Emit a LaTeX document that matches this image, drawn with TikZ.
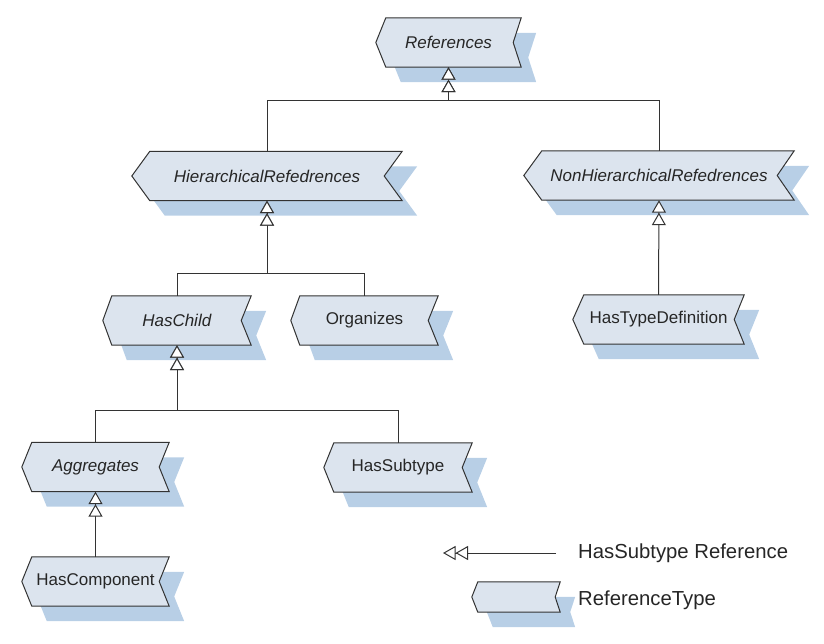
\documentclass[tikz,border=0pt]{standalone}
\usepackage{fontspec}
\setmainfont{Liberation Sans}
\usetikzlibrary{arrows.meta,backgrounds}
\definecolor{typefill}{RGB}{220,228,238}
\definecolor{typeshadow}{RGB}{184,207,230}
\definecolor{typeline}{RGB}{51,51,51}

\begin{document}
\begin{tikzpicture}[x=1pt,y=-1pt,
    reftype/.style={inner sep=0pt, minimum width=#1, minimum height=49pt,
      font=\fontsize{17}{19}\selectfont, text=black!85},
    reftype/.default=147pt,
    subtype/.style={draw=typeline, line width=1pt,
      -{Triangle[length=12.5pt,width=14pt,fill=white,sep=0pt] Triangle[length=12.5pt,width=14pt,fill=white]}},
    legendtext/.style={anchor=west, inner sep=0pt, font=\fontsize{20.3}{23}\selectfont, text=black!85}]
  \useasboundingbox (0,0) rectangle (824,643);

  % reference types
  \node [reftype=145pt] (refs) at (448.5,42.5) {\textit{References}};
  \node [reftype=270pt] (hier) at (267,176) {\textit{HierarchicalRefedrences}};
  \node [reftype=270pt] (nonhier) at (659,175.5) {\textit{NonHierarchicalRefedrences}};
  \node [reftype=148pt] (haschild) at (177,320.5) {\textit{HasChild}};
  \node [reftype] (organizes) at (364.5,320.5) {Organizes};
  \node [reftype=171pt] (typedef) at (658.5,319.5) {HasTypeDefinition};
  \node [reftype] (aggregates) at (95.5,467) {\textit{Aggregates}};
  \node [reftype=148pt] (hassubtype) at (398,467.5) {HasSubtype};
  \node [reftype] (hascomponent) at (95.5,581.5) {HasComponent};

  % legend
  \node [reftype=88pt, minimum height=30pt] (legend) at (516,597) {};
  \node [legendtext] (legendref) at (578,553) {HasSubtype Reference};
  \node [legendtext] (legendtype) at (578,600) {ReferenceType};
  \coordinate (legendtip) at (443,553);
  \coordinate (legendtail) at (556,553);

  \begin{scope}[on background layer]
    \foreach \n/\i/\k in {refs/10/8, hier/18/18, nonhier/18/17, haschild/9/10,
        organizes/9/10, typedef/11/10, aggregates/10/10, hassubtype/10/10,
        hascomponent/10/10, legend/6/5}
      \fill [typeshadow, transform canvas={xshift=15pt,yshift=-15pt}]
        (\n.west) -- ([xshift=\i]\n.north west) -- (\n.north east)
        -- ([xshift=-\k]\n.east) -- (\n.south east) -- ([xshift=\i]\n.south west) -- cycle;
    \foreach \n/\i/\k in {refs/10/8, hier/18/18, nonhier/18/17, haschild/9/10,
        organizes/9/10, typedef/11/10, aggregates/10/10, hassubtype/10/10,
        hascomponent/10/10, legend/6/5}
      \filldraw [fill=typefill, draw=typeline, line width=1pt, line join=miter]
        (\n.west) -- ([xshift=\i]\n.north west) -- (\n.north east)
        -- ([xshift=-\k]\n.east) -- (\n.south east) -- ([xshift=\i]\n.south west) -- cycle;
  \end{scope}

  % subtype references
  \foreach \c in {hier,nonhier}
    \draw [subtype] (\c.north) |- ([yshift=-33pt]refs.south) -- (refs.south);
  \foreach \c in {haschild,organizes}
    \draw [subtype] (\c.north) |- ([yshift=-73pt]hier.south) -- (hier.south);
  \foreach \c in {aggregates,hassubtype}
    \draw [subtype] (\c.north) |- ([yshift=-65pt]haschild.south) -- (haschild.south);
  \draw [subtype] (typedef.north) -- (nonhier.south);
  \draw [subtype] (hascomponent.north) -- (aggregates.south);
  \draw [subtype] (legendtail) -- (legendtip);
\end{tikzpicture}
\end{document}
